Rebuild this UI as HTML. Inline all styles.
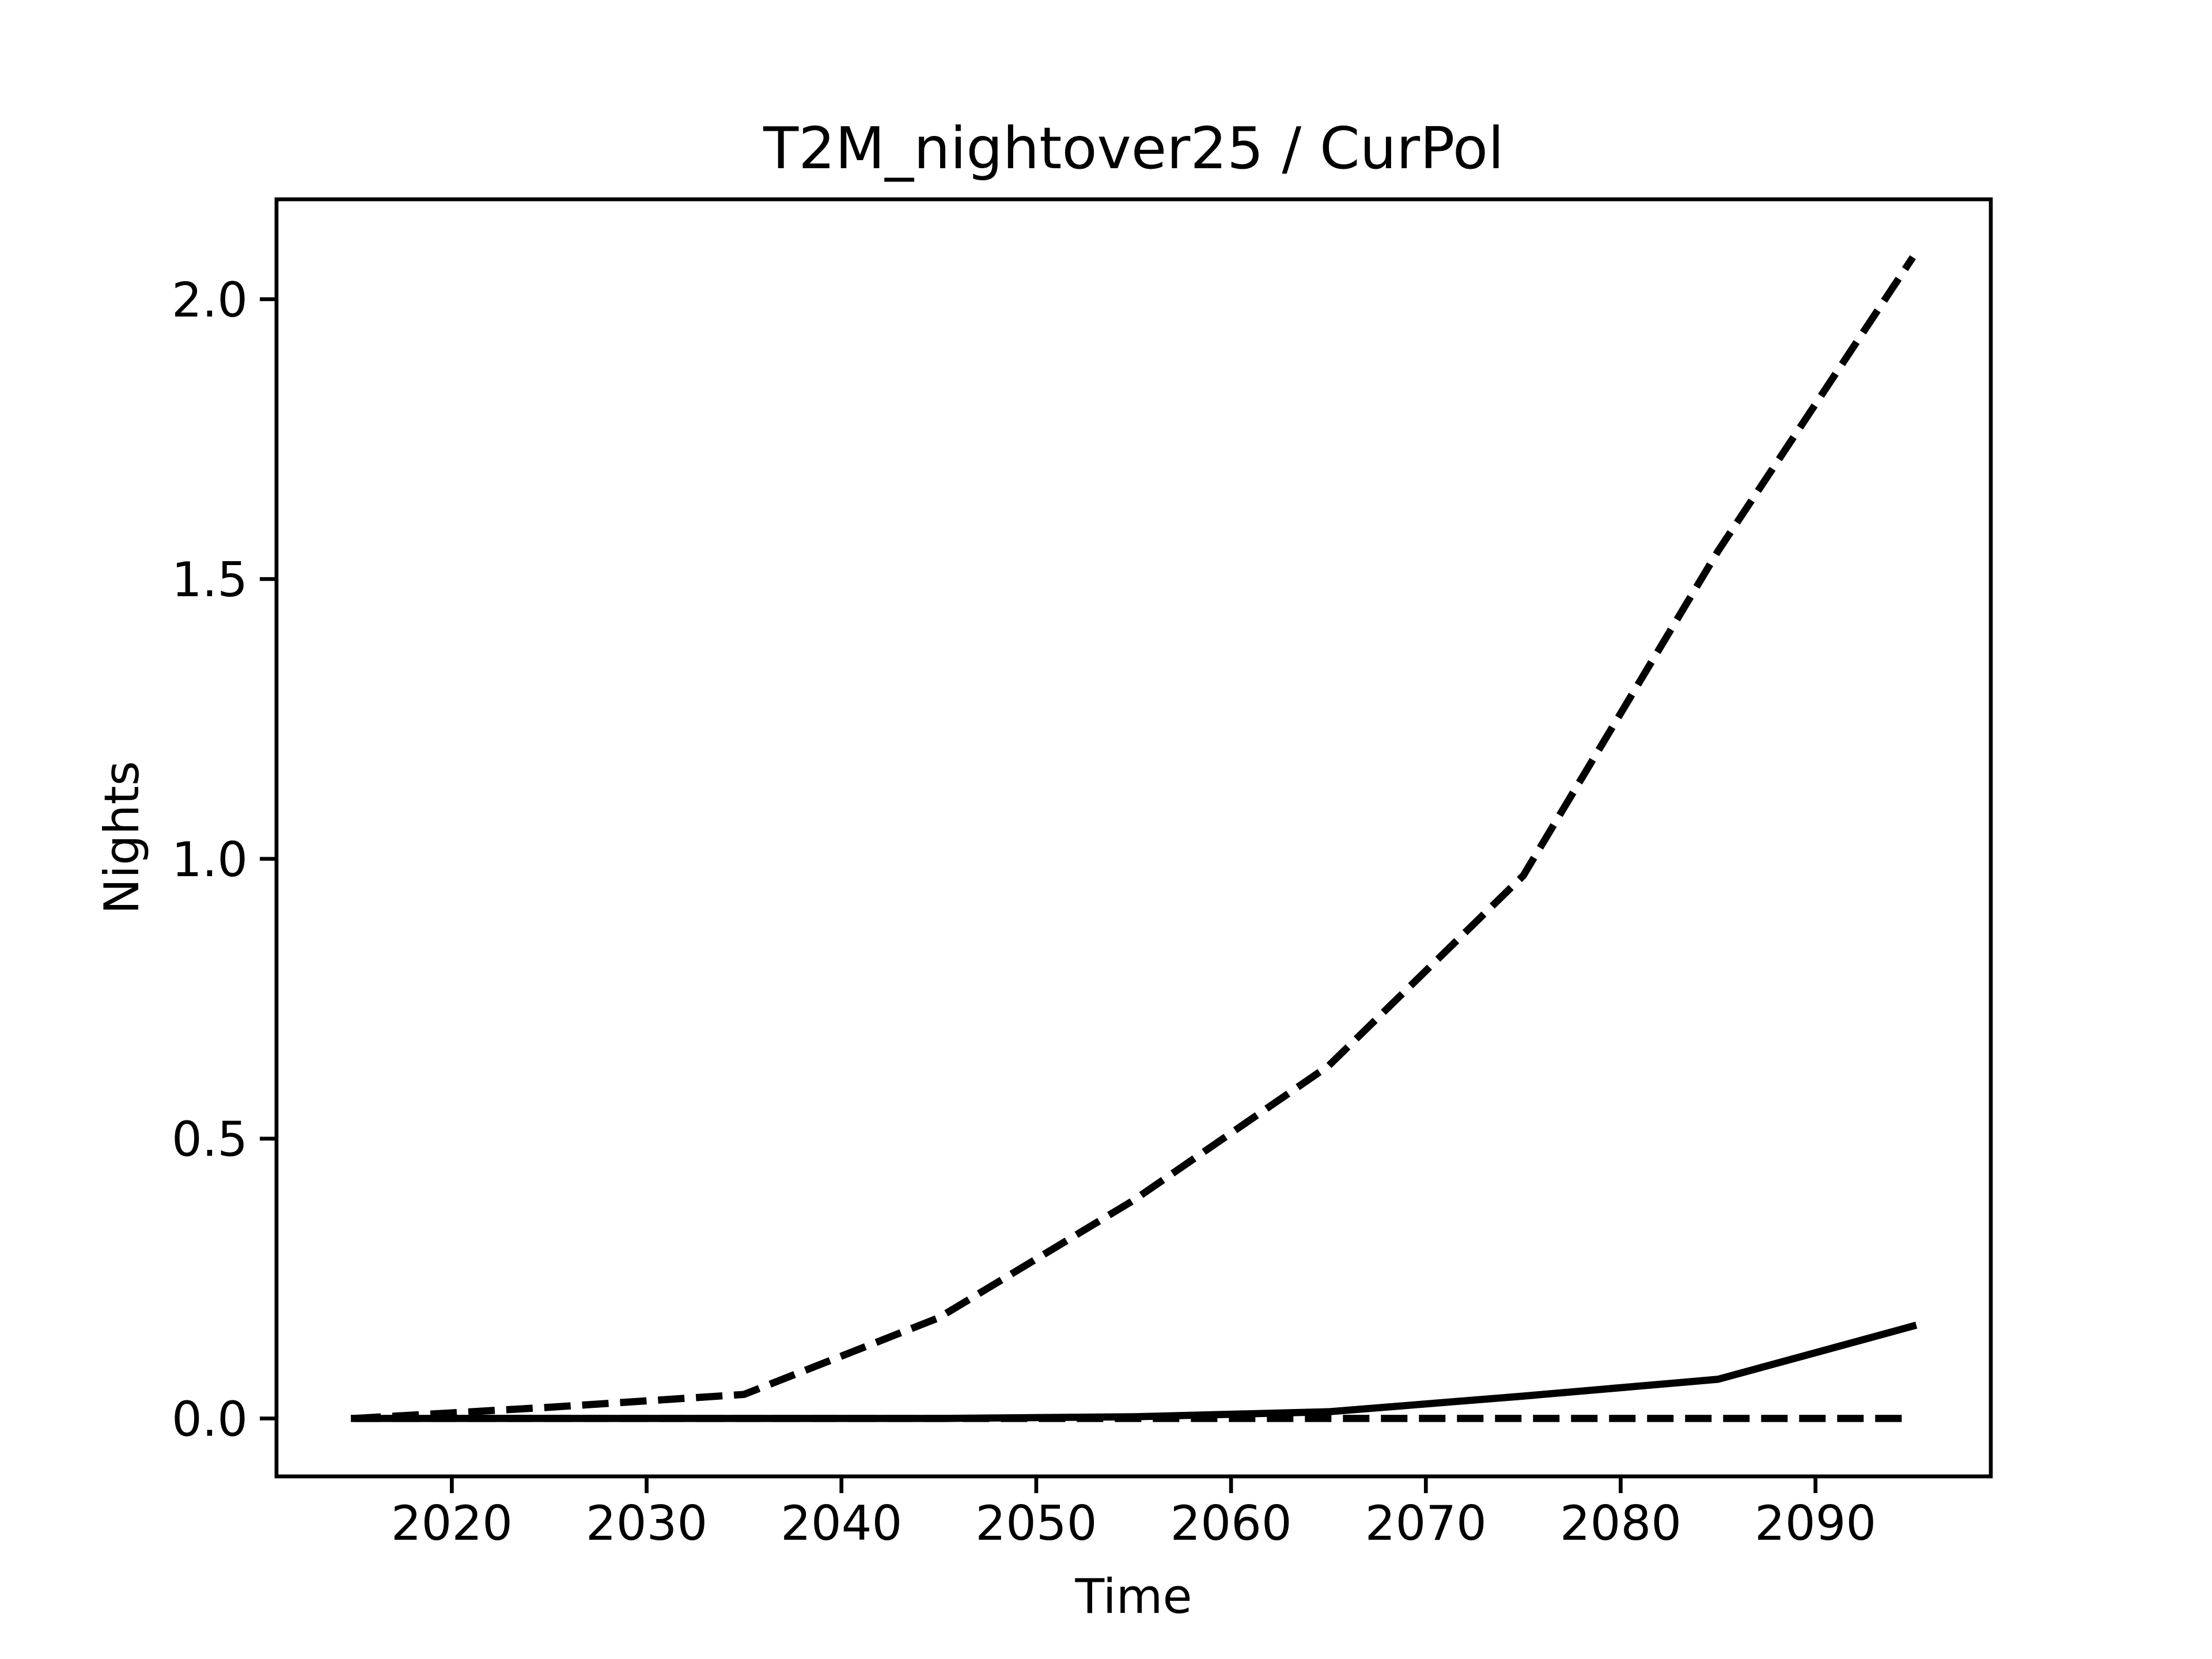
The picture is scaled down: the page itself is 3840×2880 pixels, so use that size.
<!DOCTYPE html>
<html><head><meta charset="utf-8"><style>
html,body{margin:0;padding:0;background:#fff}
svg{display:block}
text{font-family:"DejaVu Sans","Liberation Sans",sans-serif;fill:#000}
</style></head><body>
<svg id="chart" width="3840" height="2880" viewBox="0 0 3840 2880">
<rect width="3840" height="2880" fill="#fff"/>
<text x="1968" y="292" font-size="100" text-anchor="middle">T2M_nightover25 / CurPol</text>
<g id="plot"></g>
<text x="1968" y="2800" font-size="83" text-anchor="middle">Time</text>
<text transform="translate(240,1454) rotate(-90)" font-size="83" text-anchor="middle">Nights</text>
</svg>
<script>
const years = [2015,2025,2035,2045,2055,2065,2075,2085,2095];
const upperValues = [0,0.02,0.043,0.18,0.39,0.63,0.97,1.55,2.075];
const medianValues = [0,0,0,0,0.003,0.012,0.04,0.07,0.165];
const lowerValues = [0,0,0,0,0,0,0,0,0];
const xTicks = [2020,2030,2040,2050,2060,2070,2080,2090];
const yTicks = [0.0,0.5,1.0,1.5,2.0];
const yTickLabels = ["0.0","0.5","1.0","1.5","2.0"];

const L=480,R=3456,T=346,B=2563;
const xmin=2011,xmax=2099,ymin=-0.1035,ymax=2.1785;
const xs=v=>L+(v-xmin)/(xmax-xmin)*(R-L);
const ys=v=>B-(v-ymin)/(ymax-ymin)*(B-T);
const NS="http://www.w3.org/2000/svg";
const g=document.getElementById('plot');
function mk(t,a){const e=document.createElementNS(NS,t);for(const k in a)e.setAttribute(k,a[k]);g.appendChild(e);return e;}

function line(vals,dash,name){
  const pts=years.map((y,i)=>xs(y).toFixed(1)+','+ys(vals[i]).toFixed(1)).join(' ');
  const p=mk('polyline',{points:pts,fill:'none',stroke:'#000','stroke-width':12.5,'stroke-linecap':dash?'butt':'square','stroke-linejoin':'round'});
  if(dash)p.setAttribute('stroke-dasharray','46 20');
  
  
}
line(lowerValues,true,'lower-dashed-series');
line(upperValues,true,'upper-dashed-series');
line(medianValues,false,'median-solid-series');

const frame=mk('rect',{x:L,y:T,width:R-L,height:B-T,fill:'none',stroke:'#000','stroke-width':6.7});



xTicks.forEach(v=>{
  const x=xs(v);
  const t=mk('line',{x1:x,x2:x,y1:B,y2:B+29,stroke:'#000','stroke-width':6.7});
  
  
  const l=mk('text',{x:x,y:B+110,'font-size':83,'text-anchor':'middle'});
  l.textContent=v;
  
  
});
yTicks.forEach((v,i)=>{
  const y=ys(v);
  const t=mk('line',{x1:L-29,x2:L,y1:y,y2:y,stroke:'#000','stroke-width':6.7});
  
  
  const l=mk('text',{x:L-50,y:y+30,'font-size':83,'text-anchor':'end'});
  l.textContent=yTickLabels[i];
  
  
});
</script>
</body></html>
